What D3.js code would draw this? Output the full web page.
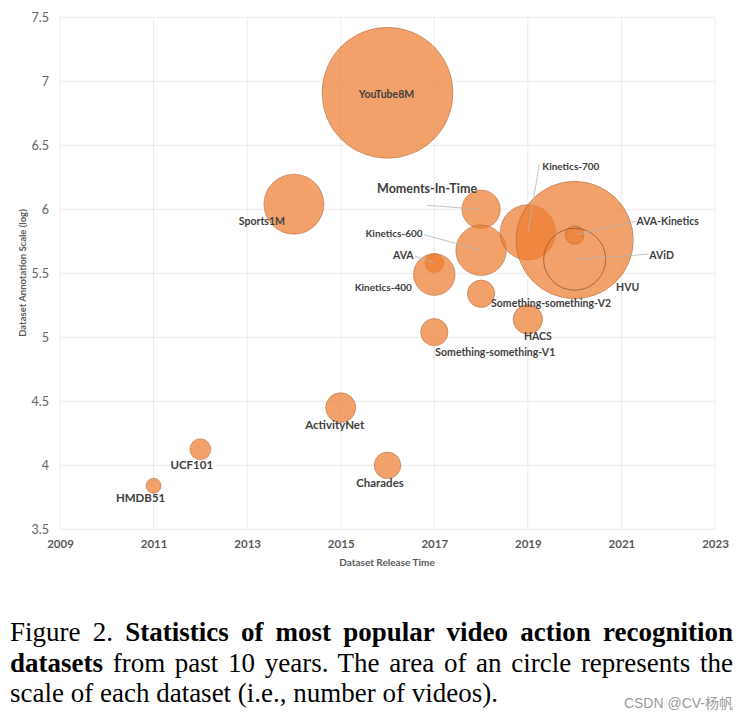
<!DOCTYPE html>
<html>
<head>
<meta charset="utf-8">
<script src="https://cdn.jsdelivr.net/npm/d3@7"></script>
<style>
  html, body { margin: 0; padding: 0; background: #fff; }
  body { width: 748px; height: 718px; position: relative; overflow: hidden; }
  svg { position: absolute; left: 0; top: 0; }
  .cap { position: absolute; left: 10px; width: 723px;
         font-family: "Liberation Serif", "Times New Roman", Tinos, Times, serif;
         font-size: 27px; line-height: 30px; color: #000; white-space: nowrap; }
  .just { text-align: justify; text-align-last: justify; }
  .wm { position: absolute; right: 15px; top: 694px; font-family: "Liberation Sans", Arial, "Noto Sans CJK SC", sans-serif;
        font-size: 14px; line-height: 16px; color: #9a9a9a; }
</style>
</head>
<body>
<svg id="chart" width="748" height="590"></svg>
<div class="cap just" style="top:617px">Figure 2. <b>Statistics of most popular video action recognition</b></div>
<div class="cap just" style="top:647.5px"><b>datasets</b> from past 10 years. The area of an circle represents the</div>
<div class="cap" style="top:677.5px">scale of each dataset (i.e., number of videos).</div>
<div class="wm">CSDN @CV-<span style="font-family:'Noto Sans CJK SC',sans-serif">杨帆</span></div>
<script>
// ---------------- data ----------------
const datasetNames = ["YouTube8M","Sports1M","Moments-In-Time","Kinetics-600","Kinetics-700","HVU",
  "AVA-Kinetics","AViD","AVA","Kinetics-400","Something-something-V2","HACS","Something-something-V1",
  "ActivityNet","Charades","UCF101","HMDB51"];
const releaseYears = [2016,2014,2018,2018,2019,2020,2020,2020,2017,2017,2018,2019,2017,2015,2016,2012,2011];
const annotationScale = [6.91,6.04,6.0,5.68,5.82,5.76,5.80,5.61,5.58,5.49,5.34,5.14,5.04,4.45,4.0,4.125,3.84];
const bubbleArea = [100,21,8.6,14.9,17.9,80.3,2.0,22.4,2.1,10.1,4.37,5.04,4.37,5.24,4.12,2.57,1.31];
const xTickValues = [2009,2011,2013,2015,2017,2019,2021,2023];
const yTickValues = [3.5,4,4.5,5,5.5,6,6.5,7,7.5];
const xAxisTitle = "Dataset Release Time";
const yAxisTitle = "Dataset Annotation Scale (log)";

// ---------------- layout (label offsets relative to bubble centre, px) ----------------
const labelLayout = {
  "YouTube8M": {dx:-1, dy:1.5, fs:10.5},
  "Sports1M": {dx:-32, dy:17, fs:10.5},
  "Moments-In-Time": {dx:-54, dy:-21, fs:12.5, leader:[-54,-4]},
  "Kinetics-600": {dx:-87, dy:-17, fs:10, leader:[-57,-15.5]},
  "Kinetics-700": {dx:43, dy:-66, fs:10, leader:[11.5,-68]},
  "HVU": {dx:53, dy:47, fs:10.5},
  "AVA-Kinetics": {dx:93, dy:-14, fs:10.5, leader:[60.5,-13.5]},
  "AViD": {dx:87, dy:-4, fs:10.5, leader:[74,-5]},
  "AVA": {dx:-31, dy:-8, fs:10.5, leader:[-19,-7]},
  "Kinetics-400": {dx:-51, dy:12, fs:10},
  "Something-something-V2": {dx:70, dy:9.5, fs:10.5},
  "HACS": {dx:10, dy:17, fs:10.5},
  "Something-something-V1": {dx:61, dy:20, fs:10.5},
  "ActivityNet": {dx:-6, dy:16.5, fs:11.5},
  "Charades": {dx:-7.5, dy:17.4, fs:11.5},
  "UCF101": {dx:-8.6, dy:14.7, fs:11.5},
  "HMDB51": {dx:-13, dy:12, fs:11.5}
};
const outlineOnly = new Set(["AViD"]);

const rows = datasetNames.map((n,i)=>({name:n, year:releaseYears[i], scale:annotationScale[i], area:bubbleArea[i]}));

const svg = d3.select("#chart");
const x = d3.scaleLinear().domain([2009,2023]).range([60,715]);
const y = d3.scaleLinear().domain([3.5,7.5]).range([529.3,17.3]);
const r = d3.scaleSqrt().domain([0,100]).range([0,65.5]);
const FONT = "Lato, 'Open Sans', sans-serif";

// gridlines
svg.append("g").selectAll("line").data(yTickValues).join("line")
  .attr("x1",x(2009)).attr("x2",x(2023)).attr("y1",d=>y(d)).attr("y2",d=>y(d))
  .attr("stroke","#ebebeb").attr("stroke-width",1);
svg.append("g").selectAll("line").data(xTickValues).join("line")
  .attr("y1",y(3.5)).attr("y2",y(7.5)).attr("x1",d=>x(d)).attr("x2",d=>x(d))
  .attr("stroke","#ebebeb").attr("stroke-width",1);

// axes (labels only)
const yAxis = d3.axisLeft(y).tickValues(yTickValues).tickFormat(d3.format("")).tickSize(0).tickPadding(11);
const gy = svg.append("g").attr("transform",`translate(${x(2009)},0)`).call(yAxis);
gy.select(".domain").remove();
gy.selectAll("text").attr("font-family",FONT).attr("font-size",12.5).attr("fill","#666");

const xAxis = d3.axisBottom(x).tickValues(xTickValues).tickFormat(d3.format("d")).tickSize(0).tickPadding(11);
const gx = svg.append("g").attr("transform",`translate(0,${y(3.5)})`).call(xAxis);
gx.select(".domain").remove();
gx.selectAll("text").attr("font-family",FONT).attr("font-size",11.5).attr("font-weight","bold").attr("fill","#595959");

// axis titles
svg.append("text").attr("x",387).attr("y",566).attr("text-anchor","middle")
  .attr("font-family",FONT).attr("font-size",10).attr("font-weight","bold").attr("fill","#595959").text(xAxisTitle);
svg.append("text").attr("transform","translate(26,273) rotate(-90)").attr("text-anchor","middle")
  .attr("font-family",FONT).attr("font-size",9.5).attr("font-weight","bold").attr("fill","#595959").text(yAxisTitle);

// bubbles
svg.append("g").selectAll("circle").data(rows).join("circle")
  .attr("cx",d=>x(d.year)).attr("cy",d=>y(d.scale)).attr("r",d=>r(d.area))
  .attr("fill",d=>outlineOnly.has(d.name)?"none":"#ED7D31")
  .attr("fill-opacity",0.72)
  .attr("stroke",d=>outlineOnly.has(d.name)?"#6b4a35":"#9a5a33")
  .attr("stroke-opacity",d=>outlineOnly.has(d.name)?0.8:0.55)
  .attr("stroke-width",0.8);

// leader lines
svg.append("g").selectAll("line").data(rows.filter(d=>labelLayout[d.name].leader)).join("line")
  .attr("x1",d=>x(d.year)+labelLayout[d.name].leader[0]).attr("y1",d=>y(d.scale)+labelLayout[d.name].leader[1])
  .attr("x2",d=>x(d.year)).attr("y2",d=>y(d.scale))
  .attr("stroke","#b5b5b5").attr("stroke-width",0.8);

// labels
svg.append("g").selectAll("text").data(rows).join("text")
  .attr("x",d=>x(d.year)+labelLayout[d.name].dx).attr("y",d=>y(d.scale)+labelLayout[d.name].dy)
  .attr("text-anchor","middle").attr("dominant-baseline","central")
  .attr("font-family",FONT).attr("font-weight","bold").attr("font-size",d=>labelLayout[d.name].fs)
  .attr("fill","#404040").text(d=>d.name);
</script>
</body>
</html>
